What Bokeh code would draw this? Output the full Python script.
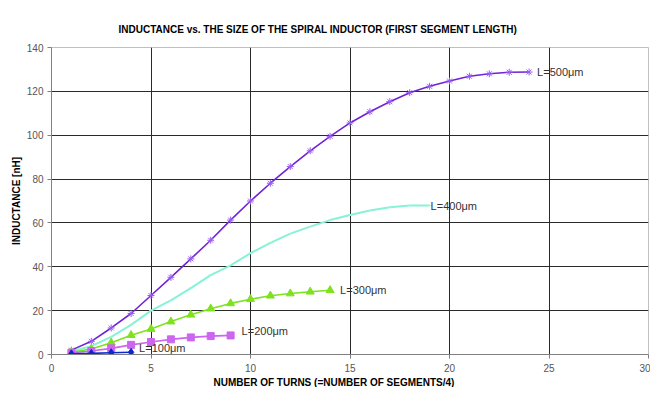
from bokeh.plotting import figure
from bokeh.models import Title, Range1d, Label
from bokeh.embed import file_html
from bokeh.resources import INLINE

# ---- data ----
turns_500 = list(range(1, 25))
ind_500 = [2.0, 6.0, 12.1, 18.7, 26.9, 35.2, 43.6, 52.1, 61.3, 70.0, 78.1, 85.7,
           92.9, 99.5, 105.6, 110.7, 115.3, 119.4, 122.3, 124.7, 126.9, 128.0, 128.7, 128.8]
turns_400 = list(range(1, 20))
ind_400 = [1.5, 3.8, 8.0, 13.5, 20.0, 24.7, 30.3, 36.2, 40.6, 46.2, 50.9, 55.1,
           58.3, 61.3, 63.6, 65.7, 67.1, 67.9, 67.9]
turns_300 = list(range(1, 15))
ind_300 = [1.0, 2.5, 5.4, 8.8, 11.6, 15.0, 18.1, 20.9, 23.3, 25.2, 26.8, 27.8, 28.6, 29.3]
turns_200 = list(range(1, 10))
ind_200 = [0.8, 1.6, 2.8, 4.4, 5.7, 6.9, 7.8, 8.4, 8.7]
turns_100 = list(range(1, 5))
ind_100 = [0.3, 0.5, 0.8, 1.0]

labels = ["L=500\u03bcm", "L=400\u03bcm", "L=300\u03bcm", "L=200\u03bcm", "L=100\u03bcm"]
x_ticks = [0, 5, 10, 15, 20, 25, 30]
y_ticks = [0, 20, 40, 60, 80, 100, 120, 140]
title_text = "INDUCTANCE vs. THE SIZE OF THE SPIRAL INDUCTOR (FIRST SEGMENT LENGTH)"

FONT = "Liberation Sans"

p = figure(width=650, height=387, output_backend="svg", toolbar_location=None,
           x_range=Range1d(0, 30), y_range=Range1d(0, 140),
           min_border_left=51, min_border_right=2, min_border_top=47, min_border_bottom=28)

p.title.text = title_text
p.title.text_font = FONT
p.title.text_font_size = "10px"
p.title.text_font_style = "bold"
p.title.text_color = "#000000"
p.title.align = "left"
p.title.offset = 67
p.title.vertical_align = "top"
p.title.standoff = 22

p.outline_line_color = "#c0c0c0"
p.background_fill_color = "white"
p.border_fill_color = "white"

p.xgrid.ticker = x_ticks
p.ygrid.ticker = y_ticks
p.grid.grid_line_color = "#2a2a2a"
p.grid.grid_line_width = 1

p.xaxis.ticker = x_ticks
p.yaxis.ticker = y_ticks
for ax in (p.xaxis, p.yaxis):
    ax.axis_line_color = "#808080"
    ax.major_tick_line_color = "#808080"
    ax.major_tick_out = 4
    ax.major_tick_in = 0
    ax.minor_tick_line_color = None
    ax.major_label_text_font = FONT
    ax.major_label_text_font_size = "10px"
    ax.major_label_text_color = "#555555"
p.xaxis.major_label_standoff = 5
p.yaxis.major_label_standoff = 4

p.yaxis.axis_label = "INDUCTANCE [nH]"
p.yaxis.axis_label_text_font = FONT
p.yaxis.axis_label_text_font_size = "10px"
p.yaxis.axis_label_text_font_style = "bold"
p.yaxis.axis_label_text_color = "#000000"
p.yaxis.axis_label_standoff = 2

xt = Title(text="NUMBER OF TURNS (=NUMBER OF SEGMENTS/4)", align="left", offset=162,
           text_font=FONT, text_font_size="10px", text_font_style="bold",
           text_color="#000000", standoff=0)
p.add_layout(xt, "below")

# series
c500, c400, c300, c200, c100 = "#6f22d8", "#86f2d6", "#7ee21e", "#cc66ee", "#0a2ad0"

p.line(turns_400, ind_400, line_color=c400, line_width=2)
p.scatter(turns_400, ind_400, marker="dash", size=4, line_color="#9af5de", fill_color=None)

p.line(turns_500, ind_500, line_color=c500, line_width=1.6)
p.scatter(turns_500, ind_500, marker="asterisk", size=7, line_color="#9a5cf0", line_width=1)

p.line(turns_300, ind_300, line_color=c300, line_width=1.6)
p.scatter(turns_300, ind_300, marker="triangle", size=8, line_color=c300, fill_color=c300)

p.line(turns_200, ind_200, line_color=c200, line_width=1.6)
p.scatter(turns_200, ind_200, marker="square", size=7, line_color=c200, fill_color=c200)

p.line(turns_100, ind_100, line_color=c100, line_width=1.6)
p.scatter(turns_100, ind_100, marker="diamond", size=8, line_color=c100, fill_color=c100)

series_ends = [(turns_500, ind_500, 8, 0), (turns_400, ind_400, 1, 0),
               (turns_300, ind_300, 10, 0), (turns_200, ind_200, 11, -4),
               (turns_100, ind_100, 8, -4)]
for (xs, ys, dx, dy), lab in zip(series_ends, labels):
    p.add_layout(Label(x=xs[-1], y=ys[-1], text=lab, x_offset=dx, y_offset=-dy,
                       text_font=FONT, text_font_size="11px", text_color="#333333",
                       text_baseline="middle", text_align="left"))

open("out.html", "w").write(file_html(p, INLINE))
